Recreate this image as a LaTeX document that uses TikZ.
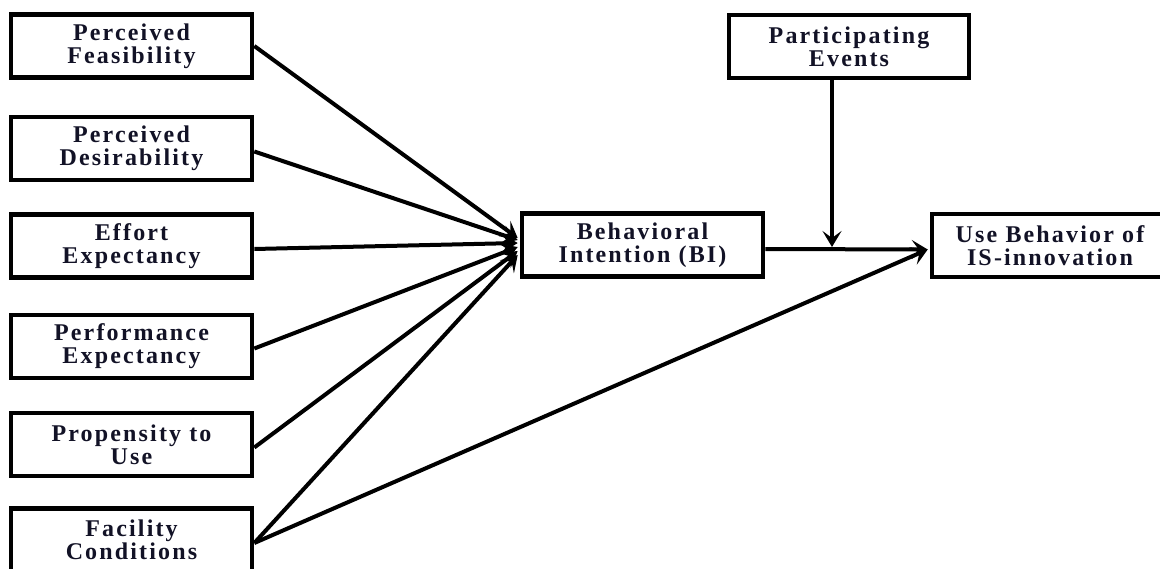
\documentclass[tikz,border=0pt]{standalone}
\usepackage{fontspec}
\setmainfont{Liberation Serif}[LetterSpace=9]
\usetikzlibrary{arrows.meta,calc}
\definecolor{txt}{rgb}{0.07,0.07,0.15}
\begin{document}
\begin{tikzpicture}[x=1pt,y=-1pt,
  box/.style={draw=black,line width=4.6pt,fill=white,minimum width=241pt,minimum height=63pt,
    align=center,font=\fontsize{24}{23}\selectfont\bfseries,text=txt,inner sep=0pt},
  arr/.style={line width=4pt,-{Stealth[length=16pt,width=19pt,inset=7pt]}}]
\useasboundingbox (0,0) rectangle (1160,568);
\clip (0,0) rectangle (1160,568);
\node[box] (pf) at (131.5,46) {Perceived\\Feasibility};
\node[box] (pd) at (131.5,148.5) {Perceived\\Desirability};
\node[box] (ee) at (131.5,246) {Effort\\Expectancy};
\node[box] (pe) at (131.5,346.5) {Performance\\Expectancy};
\node[box] (pu) at (131.5,444.5) {Propensity to\\Use};
\node[box] (fc) at (131.5,540) {Facility\\Conditions};
\node[box] (bi) at (642.5,245) {Behavioral\\Intention (BI)};
\node[box,minimum width=240pt] (pev) at (849,46.5) {Participating\\Events};
\node[box,minimum width=236pt] (ub) at (1050,245.5) {Use Behavior of\\IS-innovation};
\coordinate (e1) at ($(bi.west)+(-2,-7)$);
\coordinate (e2) at ($(bi.west)+(-2,-5)$);
\coordinate (e3) at ($(bi.west)+(-2,-2)$);
\coordinate (e4) at ($(bi.west)+(-2,2)$);
\coordinate (e5) at ($(bi.west)+(-2,6)$);
\coordinate (e6) at ($(bi.west)+(-2,10)$);
\coordinate (s6) at ($(fc.east)+(0,3)$);
\coordinate (m) at (832,247);
\coordinate (ut) at ($(ub.west)+(-2,4)$);
\draw[arr] (pf.east) -- (e1);
\draw[arr] ($(pd.east)+(0,3)$) -- (e2);
\draw[arr] ($(ee.east)+(0,3)$) -- (e3);
\draw[arr] ($(pe.east)+(0,2)$) -- (e4);
\draw[arr] ($(pu.east)+(0,3)$) -- (e5);
\draw[arr] (s6) -- (e6);
\draw[arr] (s6) -- (ut);
\draw[arr] ($(bi.east)+(0,4)$) -- (ut);
\draw[arr] (pev.south -| m) -- (m);
\end{tikzpicture}
\end{document}
